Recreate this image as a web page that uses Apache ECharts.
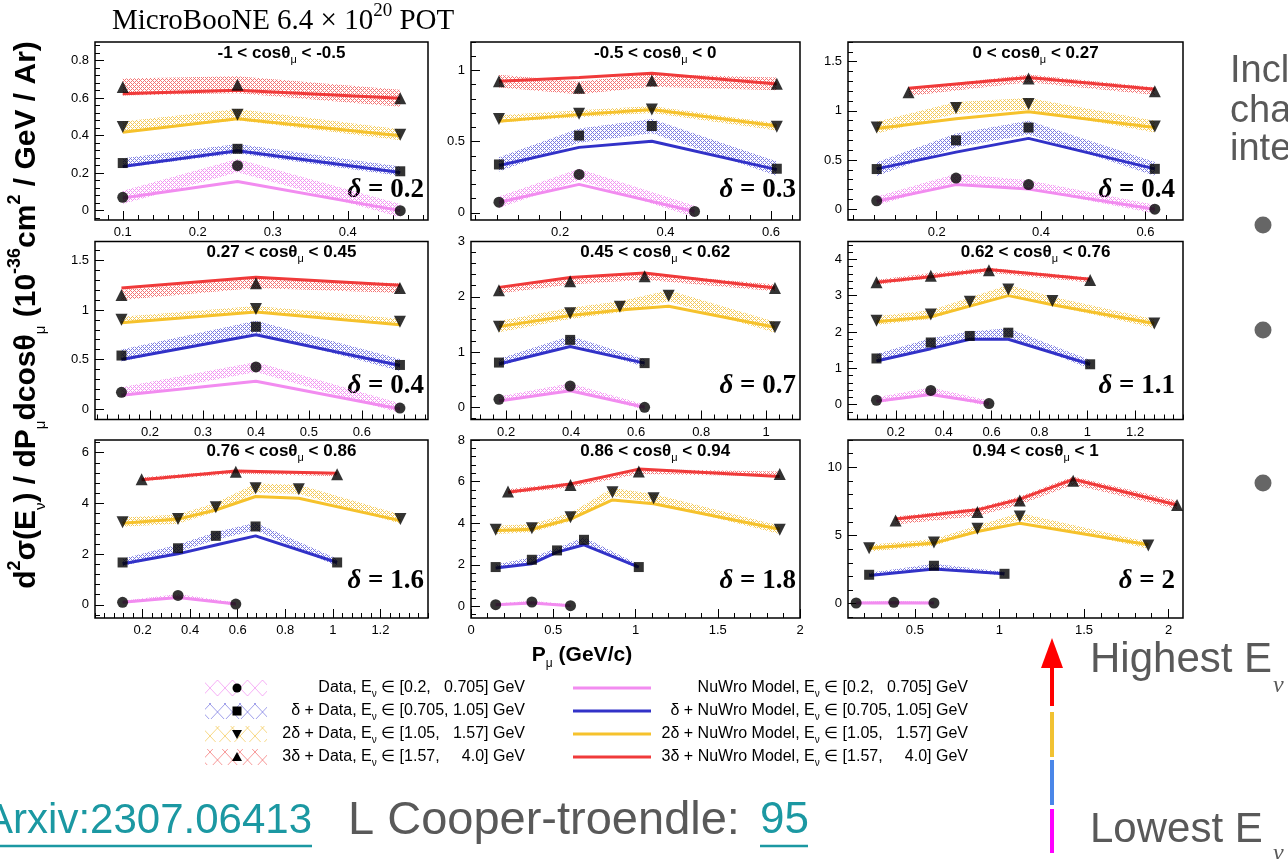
<!DOCTYPE html>
<html>
<head>
<meta charset="utf-8">
<script src="https://cdn.jsdelivr.net/npm/echarts@6/dist/echarts.min.js"></script>
<style>
html, body { margin: 0; padding: 0; background: #fff; }
#chart { width: 1288px; height: 859px; }
</style>
</head>
<body>
<div id="chart"></div>
<script>
// panel order: row by row, cos(theta_mu) slices
const panelCuts = [['-1', '-0.5'], ['-0.5', '0'], ['0', '0.27'], ['0.27', '0.45'], ['0.45', '0.62'],
    ['0.62', '0.76'], ['0.76', '0.86'], ['0.86', '0.94'], ['0.94', '1']];
const deltaLabels = ['0.2', '0.3', '0.4', '0.4', '0.7', '1.1', '1.6', '1.8', '2'];

const xMin = [0.063, 0.031, 0.03, 0.096, 0.092, 0, 0, 0, 0.105];
const xMax = [0.507, 0.655, 0.672, 0.725, 1.104, 1.4, 1.4, 2, 2.085];
const yMin = [-0.05, -0.05, -0.11, -0.105, -0.22, -0.41, -0.52, -0.56, -1.05];
const yMax = [0.9, 1.2, 1.7, 1.69, 3.0, 4.49, 6.5, 8, 12];
const xTicks = [[0.1, 0.2, 0.3, 0.4], [0.2, 0.4, 0.6], [0.2, 0.4, 0.6], [0.2, 0.3, 0.4, 0.5, 0.6],
    [0.2, 0.4, 0.6, 0.8, 1], [0.2, 0.4, 0.6, 0.8, 1, 1.2], [0.2, 0.4, 0.6, 0.8, 1, 1.2],
    [0, 0.5, 1, 1.5, 2], [0.5, 1, 1.5, 2]];
const yTicks = [[0, 0.2, 0.4, 0.6, 0.8], [0, 0.5, 1], [0, 0.5, 1, 1.5], [0, 0.5, 1, 1.5], [0, 1, 2, 3],
    [0, 1, 2, 3, 4], [0, 2, 4, 6], [0, 2, 4, 6, 8], [0, 5, 10]];
const xMinorStep = [0.02, 0.04, 0.04, 0.02, 0.04, 0.04, 0.04, 0.1, 0.1];
const yMinorStep = [0.04, 0.1, 0.1, 0.1, 0.2, 0.2, 0.4, 0.4, 1];

// E_nu in [0.2, 0.705] GeV
const pinkX = [[0.1, 0.253, 0.47], [0.084, 0.236, 0.455], [0.085, 0.237, 0.376, 0.618], [0.146, 0.40, 0.672],
    [0.178, 0.397, 0.626], [0.119, 0.346, 0.589], [0.116, 0.349, 0.592], [0.15, 0.37, 0.605], [0.153, 0.376, 0.613]];
const pinkData = [[0.071, 0.24, 0.0], [0.075, 0.27, 0.01], [0.085, 0.316, 0.25, 0.0], [0.169, 0.425, 0.01],
    [0.145, 0.386, 0.0], [0.12, 0.39, 0.03], [0.1, 0.37, 0.03], [0.08, 0.21, 0.03], [0.05, 0.1, 0.05]];
const pinkModel = [[0.068, 0.156, 0.0], [0.075, 0.20, 0.01], [0.08, 0.25, 0.204, 0.0], [0.14, 0.28, 0.0],
    [0.114, 0.30, 0.0], [0.09, 0.28, 0.03], [0.1, 0.29, 0.03], [0.08, 0.16, 0.03], [0.05, 0.06, 0.05]];
const pinkErr = [0.035, 0.04, 0.045, 0.05, 0.05, 0.08, 0.06, 0.06, 0.1];

// delta + E_nu in [0.705, 1.05] GeV
const blueX = [[0.1, 0.253, 0.47], [0.084, 0.236, 0.374, 0.611], [0.085, 0.237, 0.376, 0.618], [0.146, 0.40, 0.672],
    [0.178, 0.397, 0.626], [0.119, 0.346, 0.509, 0.670, 1.012], [0.116, 0.349, 0.508, 0.675, 1.018],
    [0.15, 0.37, 0.523, 0.687, 1.02], [0.23, 0.613, 1.03]];
const blueData = [[0.254, 0.33, 0.21], [0.34, 0.543, 0.61, 0.31], [0.408, 0.70, 0.83, 0.41], [0.54, 0.83, 0.445],
    [0.81, 1.22, 0.80], [1.27, 1.71, 1.89, 1.98, 1.11], [1.67, 2.23, 2.72, 3.09, 1.67],
    [1.89, 2.24, 2.69, 3.2, 1.89], [2.12, 2.78, 2.19]];
const blueModel = [[0.236, 0.32, 0.204], [0.333, 0.46, 0.503, 0.304], [0.41, 0.58, 0.72, 0.41], [0.50, 0.75, 0.44],
    [0.785, 1.10, 0.80], [1.20, 1.54, 1.80, 1.80, 1.11], [1.62, 2.01, 2.36, 2.72, 1.67],
    [1.84, 2.05, 2.61, 2.96, 1.89], [2.07, 2.54, 2.19]];
const blueErr = [0.025, 0.05, 0.07, 0.06, 0.07, 0.12, 0.15, 0.12, 0.15];

// 2 delta + E_nu in [1.05, 1.57] GeV
const yellowX = [[0.1, 0.253, 0.47], [0.084, 0.236, 0.374, 0.611], [0.085, 0.237, 0.376, 0.618], [0.146, 0.40, 0.672],
    [0.178, 0.397, 0.55, 0.70, 1.027], [0.119, 0.346, 0.509, 0.670, 0.854, 1.28],
    [0.116, 0.349, 0.508, 0.675, 0.857, 1.284], [0.15, 0.37, 0.605, 0.86, 1.11, 1.877],
    [0.23, 0.613, 0.87, 1.12, 1.88]];
const yellowData = [[0.446, 0.512, 0.405], [0.66, 0.696, 0.726, 0.604], [0.83, 1.03, 1.07, 0.84], [0.90, 1.01, 0.88],
    [1.46, 1.70, 1.82, 2.02, 1.45], [2.31, 2.48, 2.83, 3.17, 2.85, 2.23], [3.26, 3.38, 3.85, 4.6, 4.56, 3.38],
    [3.68, 3.76, 4.29, 5.49, 5.2, 3.68], [4.07, 4.49, 5.49, 6.39, 4.27]];
const yellowModel = [[0.418, 0.49, 0.40], [0.644, 0.69, 0.726, 0.61], [0.82, 0.92, 0.99, 0.83], [0.87, 0.98, 0.85],
    [1.46, 1.66, 1.76, 1.83, 1.45], [2.28, 2.42, 2.71, 3.0, 2.75, 2.23], [3.22, 3.38, 3.74, 4.27, 4.2, 3.32],
    [3.65, 3.71, 4.2, 5.12, 4.93, 3.71], [4.07, 4.44, 5.29, 5.9, 4.32]];
const yellowErr = [0.03, 0.025, 0.06, 0.03, 0.1, 0.12, 0.18, 0.2, 0.25];

// 3 delta + E_nu in [1.57, 4.0] GeV
const redX = [[0.1, 0.253, 0.47], [0.084, 0.236, 0.374, 0.611], [0.146, 0.376, 0.618], [0.146, 0.40, 0.672],
    [0.178, 0.397, 0.626, 1.027], [0.119, 0.346, 0.589, 1.012], [0.196, 0.592, 1.018],
    [0.225, 0.605, 1.02, 1.877], [0.386, 0.87, 1.12, 1.436, 2.05]];
const redData = [[0.66, 0.672, 0.60], [0.925, 0.878, 0.93, 0.906], [1.19, 1.33, 1.20], [1.15, 1.27, 1.22],
    [2.12, 2.28, 2.37, 2.16], [3.37, 3.55, 3.70, 3.43], [4.95, 5.25, 5.15], [5.52, 5.84, 6.48, 6.37],
    [6.1, 6.73, 7.56, 9.02, 7.24]];
const redModel = [[0.624, 0.642, 0.60], [0.925, 0.95, 0.98, 0.905], [1.23, 1.34, 1.22], [1.22, 1.33, 1.25],
    [2.17, 2.35, 2.43, 2.16], [3.37, 3.52, 3.72, 3.45], [4.93, 5.28, 5.19], [5.49, 5.88, 6.6, 6.24],
    [6.2, 6.88, 7.66, 9.12, 7.24]];
const redErr = [0.045, 0.045, 0.04, 0.05, 0.06, 0.07, 0.08, 0.12, 0.3];

const legendPrefix = ['', 'δ + ', '2δ + ', '3δ + '];
const legendRange = ['[0.2,   0.705]', '[0.705, 1.05]', '[1.05,   1.57]', '[1.57,     4.0]'];

const FONT = '"Liberation Sans", Arial, Helvetica, sans-serif';
const SERIF = '"Liberation Serif", "Times New Roman", serif';

// layout of the 3x3 frames (px)
const colLeft = [95, 471, 848];
const colWidth = [333, 329, 335];
const rowTop = [42, 241.5, 440];
const rowHeight = 178;

function hatch (color, alpha) {
    // fine checker pattern like ROOT fill style 3xxx
    const c = document.createElement('canvas');
    c.width = 4; c.height = 4;
    const g = c.getContext('2d');
    g.globalAlpha = alpha;
    g.fillStyle = color;
    for (let i = 0; i < 4; i++) {
        for (let j = 0; j < 4; j++) {
            if ((i + j) % 4 === 0 || (i - j + 4) % 4 === 0) g.fillRect(i, j, 1, 1);
        }
    }
    return { image: c, repeat: 'repeat' };
}

function bigHatch (color) {
    // coarse cross hatch used in the legend boxes
    const c = document.createElement('canvas');
    c.width = 15; c.height = 16;
    const g = c.getContext('2d');
    g.strokeStyle = color;
    g.globalAlpha = 0.55;
    g.lineWidth = 1;
    g.beginPath();
    g.moveTo(0, 0); g.lineTo(15, 16);
    g.moveTo(15, 0); g.lineTo(0, 16);
    g.stroke();
    return { image: c, repeat: 'repeat' };
}

const bins = [
    { x: pinkX, data: pinkData, model: pinkModel, err: pinkErr, line: '#f28cf0', hatch: '#ee70ee', symbol: 'circle', size: 11, rotate: 0 },
    { x: blueX, data: blueData, model: blueModel, err: blueErr, line: '#3232c8', hatch: '#5050d8', symbol: 'rect', size: 10, rotate: 0 },
    { x: yellowX, data: yellowData, model: yellowModel, err: yellowErr, line: '#f6c22c', hatch: '#f0b820', symbol: 'triangle', size: 12, rotate: 180 },
    { x: redX, data: redData, model: redModel, err: redErr, line: '#f03a3a', hatch: '#f04545', symbol: 'triangle', size: 12, rotate: 0 }
];

function minorValues (min, max, step) {
    const out = [];
    const i0 = Math.ceil(min / step - 1e-6);
    const i1 = Math.floor(max / step + 1e-6);
    for (let i = i0; i <= i1; i++) out.push(+(i * step).toFixed(6));
    return out;
}

const grids = [];
const xAxes = [];
const yAxes = [];
const series = [];
const graphics = [];

for (let p = 0; p < 9; p++) {
    const r = Math.floor(p / 3);
    const c = p % 3;
    grids.push({
        left: colLeft[c], top: rowTop[r], width: colWidth[c], height: rowHeight,
        show: true, borderColor: '#000', borderWidth: 1.5, backgroundColor: 'rgba(0,0,0,0)', containLabel: false
    });
    // main axes with labels + minor tick axes
    xAxes.push({
        type: 'value', gridIndex: p, min: xMin[p], max: xMax[p], position: 'bottom',
        axisLine: { show: false, onZero: false }, splitLine: { show: false },
        axisTick: { show: true, inside: true, length: 9, customValues: xTicks[p], lineStyle: { color: '#000', width: 1 } },
        axisLabel: { customValues: xTicks[p], formatter: v => String(v), color: '#000', fontSize: 13, fontFamily: FONT, margin: 6 }
    });
    xAxes.push({
        type: 'value', gridIndex: p, min: xMin[p], max: xMax[p], position: 'bottom',
        axisLine: { show: false, onZero: false }, splitLine: { show: false }, axisLabel: { show: false },
        axisTick: { show: true, inside: true, length: 5, customValues: minorValues(xMin[p], xMax[p], xMinorStep[p]), lineStyle: { color: '#000', width: 1 } }
    });
    yAxes.push({
        type: 'value', gridIndex: p, min: yMin[p], max: yMax[p], position: 'left',
        axisLine: { show: false, onZero: false }, splitLine: { show: false },
        axisTick: { show: true, inside: true, length: 9, customValues: yTicks[p], lineStyle: { color: '#000', width: 1 } },
        axisLabel: { customValues: yTicks[p], formatter: v => String(v), color: '#000', fontSize: 13, fontFamily: FONT, margin: 6 }
    });
    yAxes.push({
        type: 'value', gridIndex: p, min: yMin[p], max: yMax[p], position: 'left',
        axisLine: { show: false, onZero: false }, splitLine: { show: false }, axisLabel: { show: false },
        axisTick: { show: true, inside: true, length: 5, customValues: minorValues(yMin[p], yMax[p], yMinorStep[p]), lineStyle: { color: '#000', width: 1 } }
    });

    bins.forEach(function (b) {
        const xs = b.x[p];
        const band = xs.map((x, i) => [x, b.data[p][i] - b.err[p], b.data[p][i] + b.err[p]]);
        const pattern = hatch(b.hatch, 0.75);
        series.push({
            type: 'custom', xAxisIndex: 2 * p, yAxisIndex: 2 * p, silent: true, z: 1,
            data: band, encode: { x: 0, y: [1, 2] },
            renderItem: function (params, api) {
                if (params.dataIndex !== 0) return null;
                const lower = band.map(d => api.coord([d[0], d[1]]));
                const upper = band.map(d => api.coord([d[0], d[2]])).reverse();
                return { type: 'polygon', shape: { points: lower.concat(upper) }, style: { fill: pattern } };
            }
        });
        series.push({
            type: 'line', xAxisIndex: 2 * p, yAxisIndex: 2 * p, silent: true, z: 3,
            data: xs.map((x, i) => [x, b.model[p][i]]),
            showSymbol: false, symbol: 'none', lineStyle: { color: b.line, width: 3 }
        });
        series.push({
            type: 'scatter', xAxisIndex: 2 * p, yAxisIndex: 2 * p, silent: true, z: 4,
            data: xs.map((x, i) => [x, b.data[p][i]]),
            symbol: b.symbol, symbolSize: b.size, symbolRotate: b.rotate, itemStyle: { color: '#000' }
        });
    });

    // panel title and delta label
    graphics.push({
        type: 'text', x: colLeft[c] + colWidth[c] * 0.56, y: rowTop[r] + 11,
        style: {
            text: '{b|' + panelCuts[p][0] + ' < cosθ}{s|μ}{b| < ' + panelCuts[p][1] + '}',
            align: 'center', verticalAlign: 'middle',
            rich: {
                b: { fontFamily: FONT, fontWeight: 'bold', fontSize: 17, lineHeight: 24, verticalAlign: 'middle', fill: '#000' },
                s: { fontFamily: FONT, fontSize: 11, verticalAlign: 'bottom', fill: '#000' }
            }
        }
    });
    graphics.push({
        type: 'text', x: colLeft[c] + colWidth[c] - (c === 2 ? 8 : 4), y: rowTop[r] + rowHeight - [30, 33, 37][r],
        style: {
            text: '{d|δ}{n| = ' + deltaLabels[p] + '}',
            align: 'right', verticalAlign: 'middle',
            rich: {
                d: { fontFamily: SERIF, fontWeight: 'bold', fontStyle: 'italic', fontSize: 27, fill: '#000' },
                n: { fontFamily: SERIF, fontWeight: 'bold', fontSize: 27, fill: '#000' }
            }
        }
    });
}

// top title
graphics.push({
    type: 'text', x: 112, y: 21,
    style: {
        text: '{a|MicroBooNE 6.4 × 10}{p|20}{a| POT}', align: 'left', verticalAlign: 'middle',
        rich: {
            a: { fontFamily: SERIF, fontSize: 29, lineHeight: 38, verticalAlign: 'middle', fill: '#000' },
            p: { fontFamily: SERIF, fontSize: 19, verticalAlign: 'top', fill: '#000' }
        }
    }
});

// y axis title
graphics.push({
    type: 'text', x: 27, y: 315, rotation: Math.PI / 2,
    style: {
        text: '{b|d}{p|2}{b|σ(E}{s|ν}{b|) / dP}{s|μ}{b|dcosθ}{s|μ}{b| (10}{p|-36}{b|cm}{p|2}{b| / GeV / Ar)}',
        align: 'center', verticalAlign: 'middle',
        rich: {
            b: { fontFamily: FONT, fontWeight: 'bold', fontSize: 30, lineHeight: 42, verticalAlign: 'middle', fill: '#000' },
            p: { fontFamily: FONT, fontWeight: 'bold', fontSize: 18, verticalAlign: 'top', fill: '#000' },
            s: { fontFamily: FONT, fontSize: 15, verticalAlign: 'bottom', fill: '#000' }
        }
    }
});

// x axis title
graphics.push({
    type: 'text', x: 582, y: 655,
    style: {
        text: '{b|P}{s|μ}{b| (GeV/c)}', align: 'center', verticalAlign: 'middle',
        rich: {
            b: { fontFamily: FONT, fontWeight: 'bold', fontSize: 21, lineHeight: 30, verticalAlign: 'middle', fill: '#000' },
            s: { fontFamily: FONT, fontSize: 12, verticalAlign: 'bottom', fill: '#000' }
        }
    }
});

// legend
const legendRowY = [688, 711, 734, 757];
const markerShapes = ['circle', 'rect', 'down', 'up'];
bins.forEach(function (b, k) {
    const y = legendRowY[k];
    graphics.push({ type: 'rect', shape: { x: 205, y: y - 8, width: 62, height: 16 }, style: { fill: bigHatch(b.hatch) } });
    const mx = 237;
    if (markerShapes[k] === 'circle') {
        graphics.push({ type: 'circle', shape: { cx: mx, cy: y, r: 4.5 }, style: { fill: '#000' } });
    } else if (markerShapes[k] === 'rect') {
        graphics.push({ type: 'rect', shape: { x: mx - 4.5, y: y - 4.5, width: 9, height: 9 }, style: { fill: '#000' } });
    } else if (markerShapes[k] === 'down') {
        graphics.push({ type: 'polygon', shape: { points: [[mx - 5, y - 4], [mx + 5, y - 4], [mx, y + 5]] }, style: { fill: '#000' } });
    } else {
        graphics.push({ type: 'polygon', shape: { points: [[mx - 5, y + 4], [mx + 5, y + 4], [mx, y - 5]] }, style: { fill: '#000' } });
    }
    const rich = {
        t: { fontFamily: FONT, fontSize: 16, lineHeight: 22, verticalAlign: 'middle', fill: '#000' },
        s: { fontFamily: FONT, fontSize: 10, verticalAlign: 'bottom', fill: '#000' }
    };
    graphics.push({
        type: 'text', x: 525, y: y,
        style: { text: '{t|' + legendPrefix[k] + 'Data, E}{s|ν}{t| ∈ ' + legendRange[k] + ' GeV}', align: 'right', verticalAlign: 'middle', rich: rich }
    });
    graphics.push({ type: 'line', shape: { x1: 573, y1: y, x2: 651, y2: y }, style: { stroke: b.line, lineWidth: 3 } });
    graphics.push({
        type: 'text', x: 968, y: y,
        style: { text: '{t|' + legendPrefix[k] + 'NuWro Model, E}{s|ν}{t| ∈ ' + legendRange[k] + ' GeV}', align: 'right', verticalAlign: 'middle', rich: rich }
    });
});

// slide text around the figure
const TEAL = '#1b98a2';
const GREY = '#595959';
graphics.push({ type: 'text', x: 312, y: 821, style: { text: 'Arxiv:2307.06413', align: 'right', verticalAlign: 'middle', font: '42px ' + FONT, fill: TEAL } });
graphics.push({ type: 'line', shape: { x1: 0, y1: 846, x2: 312, y2: 846 }, style: { stroke: TEAL, lineWidth: 2.5 } });
graphics.push({ type: 'text', x: 348, y: 821, style: { text: 'L Cooper-troendle:', align: 'left', verticalAlign: 'middle', font: '47px ' + FONT, fill: GREY } });
graphics.push({ type: 'text', x: 760, y: 821, style: { text: '95', align: 'left', verticalAlign: 'middle', font: '44px ' + FONT, fill: TEAL } });
graphics.push({ type: 'line', shape: { x1: 760, y1: 846, x2: 808, y2: 846 }, style: { stroke: TEAL, lineWidth: 2.5 } });

['Incl', 'cha', 'inte'].forEach(function (t, i) {
    graphics.push({ type: 'text', x: 1230, y: [72, 112, 150][i], style: { text: t, align: 'left', verticalAlign: 'middle', font: '38px ' + FONT, fill: GREY } });
});
[225, 330, 483].forEach(function (y) {
    graphics.push({ type: 'circle', shape: { cx: 1263, cy: y, r: 8.5 }, style: { fill: '#666' } });
});

// energy arrow
graphics.push({ type: 'polygon', shape: { points: [[1041, 668], [1063, 668], [1052, 638]] }, style: { fill: '#ff0000' } });
graphics.push({ type: 'rect', shape: { x: 1050, y: 666, width: 4, height: 40 }, style: { fill: '#ff0000' } });
graphics.push({ type: 'rect', shape: { x: 1050, y: 712, width: 4, height: 45 }, style: { fill: '#f1c232' } });
graphics.push({ type: 'rect', shape: { x: 1050, y: 760, width: 4, height: 45 }, style: { fill: '#4a86e8' } });
graphics.push({ type: 'rect', shape: { x: 1050, y: 809, width: 4, height: 44 }, style: { fill: '#ff00ff' } });
graphics.push({ type: 'text', x: 1090, y: 660, style: { text: 'Highest E', align: 'left', verticalAlign: 'middle', font: '42px ' + FONT, fill: GREY } });
graphics.push({ type: 'text', x: 1273, y: 686, style: { text: 'ν', align: 'left', verticalAlign: 'middle', font: 'italic 24px ' + SERIF, fill: GREY } });
graphics.push({ type: 'text', x: 1090, y: 830, style: { text: 'Lowest E', align: 'left', verticalAlign: 'middle', font: '42px ' + FONT, fill: GREY } });
graphics.push({ type: 'text', x: 1273, y: 854, style: { text: 'ν', align: 'left', verticalAlign: 'middle', font: 'italic 24px ' + SERIF, fill: GREY } });

const chart = echarts.init(document.getElementById('chart'));
chart.setOption({
    backgroundColor: '#fff',
    animation: false,
    grid: grids,
    xAxis: xAxes,
    yAxis: yAxes,
    series: series,
    graphic: { elements: graphics }
});
</script>
</body>
</html>
